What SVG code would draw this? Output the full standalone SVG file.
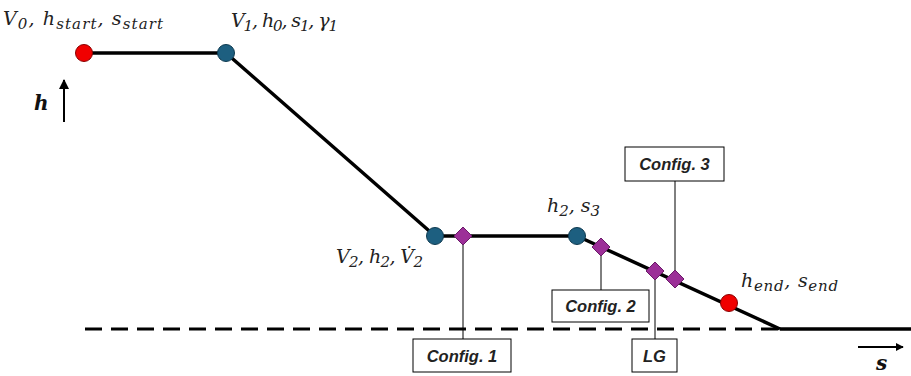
<svg xmlns="http://www.w3.org/2000/svg" width="911" height="376" viewBox="0 0 911 376">
<style>
.path{fill:none;stroke:#000;stroke-width:3.5;stroke-linejoin:round}
.lead{fill:none;stroke:#000;stroke-width:1}
.box{fill:#fff;stroke:#000;stroke-width:1}
.cfg{font-family:"Liberation Sans",Arial,sans-serif;font-weight:bold;font-style:italic;font-size:16.5px;text-anchor:middle;fill:#222}
.math{font-family:"DejaVu Serif","Liberation Serif",serif;font-style:italic;font-size:19px;fill:#222}
.sub{font-size:15px}
.axis{font-family:"DejaVu Serif","Liberation Serif",serif;font-style:italic;font-weight:bold;font-size:20px;fill:#111}
.red{fill:#f00000;stroke:#8a0000;stroke-width:1}
.blue{fill:#1d5f80;stroke:#0e3a50;stroke-width:1}
.dia{fill:#9c2f98;stroke:#6a1a68;stroke-width:1}
</style>
<defs>
<marker id="ah" viewBox="0 0 10 10" refX="9" refY="5" markerWidth="5" markerHeight="5" orient="auto" markerUnits="strokeWidth">
<path d="M0,0 L10,5 L0,10 z" fill="#000"/>
</marker>
<marker id="ah2" viewBox="0 0 10 10" refX="9" refY="5" markerWidth="4" markerHeight="5" orient="auto" markerUnits="strokeWidth">
<path d="M0,0 L10,5 L0,10 z" fill="#000"/>
</marker>
</defs>
<rect width="911" height="376" fill="#fff"/>
<g id="connectors">
<line x1="85" y1="329" x2="780" y2="329" stroke="#000" stroke-width="3" stroke-dasharray="17,9"/>
<line x1="780" y1="329" x2="911" y2="329" stroke="#000" stroke-width="3.5"/>
<polyline class="path" points="84,53 226,53 435,236 577,236 780,329"/>
<line class="lead" x1="463" y1="236" x2="463" y2="339"/>
<line class="lead" x1="601" y1="247" x2="601" y2="290"/>
<line class="lead" x1="655" y1="271" x2="655" y2="339"/>
<line class="lead" x1="675" y1="181" x2="675" y2="279"/>
<line x1="64" y1="122" x2="64" y2="80" stroke="#000" stroke-width="2" marker-end="url(#ah)"/>
<line x1="858" y1="347" x2="903" y2="347" stroke="#000" stroke-width="2" marker-end="url(#ah2)"/>
</g>
<g id="axis-labels">
<text class="axis" x="34" y="110">h</text>
<text class="axis" x="876" y="370">s</text>
</g>
<g id="n-start">
<circle class="red" cx="84" cy="53" r="8.5"/>
<text class="math" x="3" y="25" textLength="160" lengthAdjust="spacing">V<tspan class="sub" dy="4">0</tspan><tspan dy="-4">, h</tspan><tspan class="sub" dy="4">start</tspan><tspan dy="-4">, s</tspan><tspan class="sub" dy="4">start</tspan></text>
</g>
<g id="n-v1">
<circle class="blue" cx="226" cy="53" r="8.5"/>
<text class="math" x="231" y="27" textLength="107" lengthAdjust="spacing">V<tspan class="sub" dy="4">1</tspan><tspan dy="-4">, h</tspan><tspan class="sub" dy="4">0</tspan><tspan dy="-4">, s</tspan><tspan class="sub" dy="4">1</tspan><tspan dy="-4">, γ</tspan><tspan class="sub" dy="4">1</tspan></text>
</g>
<g id="n-v2">
<circle class="blue" cx="435" cy="236" r="8.5"/>
<text class="math" x="336" y="263" textLength="87" lengthAdjust="spacing">V<tspan class="sub" dy="4">2</tspan><tspan dy="-4">, h</tspan><tspan class="sub" dy="4">2</tspan><tspan dy="-4">, V̇</tspan><tspan class="sub" dy="4">2</tspan></text>
</g>
<g id="n-h2s3">
<circle class="blue" cx="577" cy="236" r="8.5"/>
<text class="math" x="547" y="212" textLength="53" lengthAdjust="spacing">h<tspan class="sub" dy="4">2</tspan><tspan dy="-4">, s</tspan><tspan class="sub" dy="4">3</tspan></text>
</g>
<g id="n-end">
<circle class="red" cx="729" cy="303" r="8.5"/>
<text class="math" x="741" y="287" textLength="97" lengthAdjust="spacing">h<tspan class="sub" dy="4">end</tspan><tspan dy="-4">, s</tspan><tspan class="sub" dy="4">end</tspan></text>
</g>
<g id="d1"><polygon class="dia" points="463,227 472,236 463,245 454,236"/></g>
<g id="d2"><polygon class="dia" points="601,238 610,247 601,256 592,247"/></g>
<g id="d3"><polygon class="dia" points="655,262 664,271 655,280 646,271"/></g>
<g id="d4"><polygon class="dia" points="675,270 684,279 675,288 666,279"/></g>
<g id="config1">
<rect class="box" x="413" y="339" width="98" height="33"/>
<text class="cfg" x="462" y="361.5">Config. 1</text>
</g>
<g id="config2">
<rect class="box" x="552" y="290" width="97" height="32"/>
<text class="cfg" x="600.5" y="312">Config. 2</text>
</g>
<g id="lg">
<rect class="box" x="632" y="339" width="45" height="33"/>
<text class="cfg" x="654.5" y="361.5">LG</text>
</g>
<g id="config3">
<rect class="box" x="625" y="147" width="99" height="34"/>
<text class="cfg" x="674.5" y="170">Config. 3</text>
</g>
</svg>
